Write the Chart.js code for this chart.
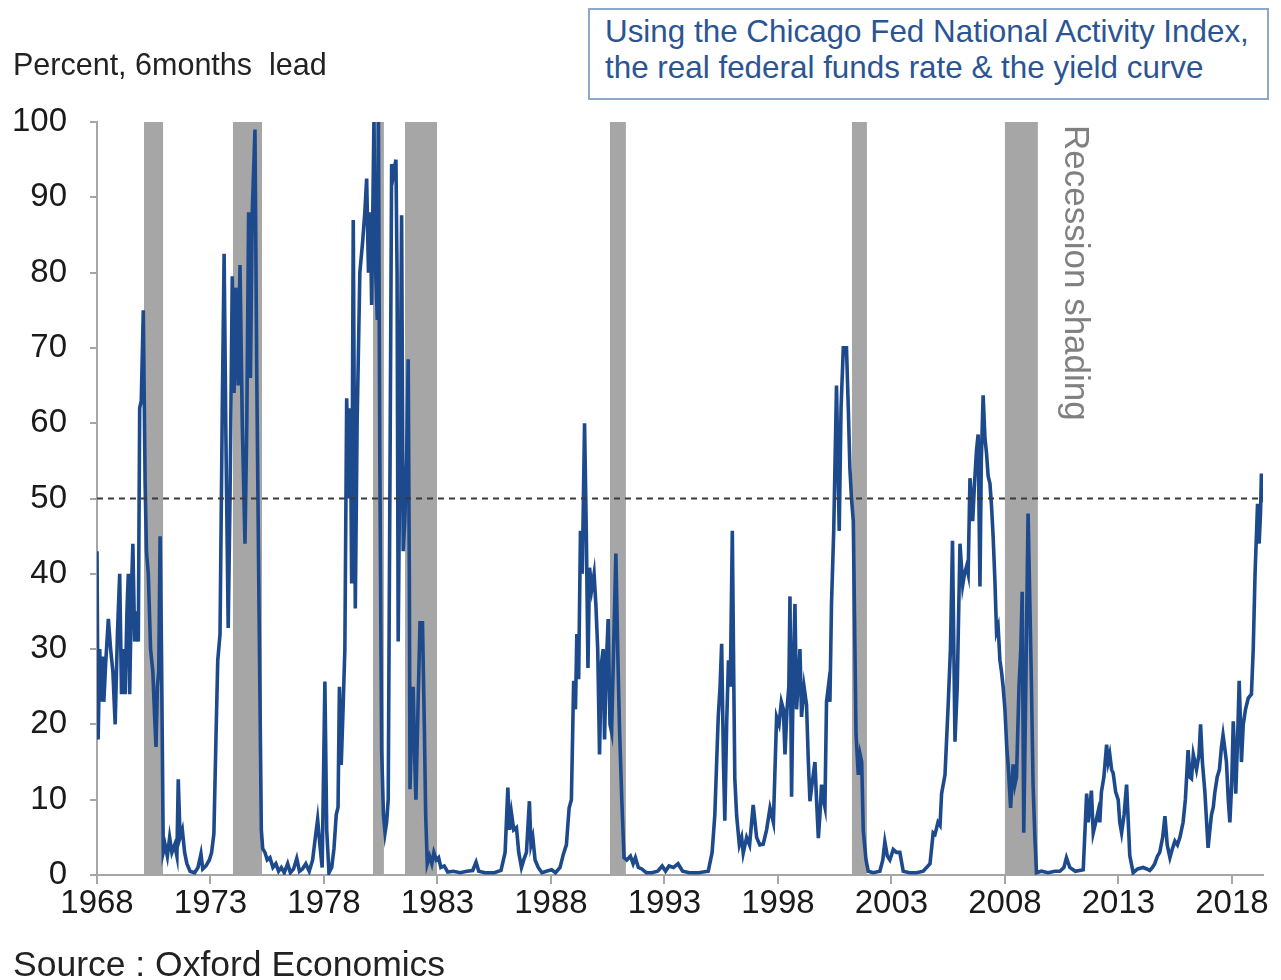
<!DOCTYPE html>
<html>
<head>
<meta charset="utf-8">
<title>Recession probability</title>
<script src="https://cdn.jsdelivr.net/npm/chart.js@4.4.1/dist/chart.umd.min.js"></script>
<style>
  html, body { margin: 0; padding: 0; background: #ffffff; }
  #wrap { position: relative; width: 1281px; height: 980px; overflow: hidden;
          font-family: "Liberation Sans", Arial, sans-serif; }
  #chart { position: absolute; left: 0; top: 0; }
  .note { position: absolute; white-space: pre; line-height: 1; }
  #unit { left: 13px; top: 49px; font-size: 30.5px; color: #222222; }
  #box { position: absolute; left: 588px; top: 8px; width: 681px; height: 92px;
         border: 2px solid #8ea9c8; box-sizing: border-box; background: #ffffff; }
  #box .note { left: 15px; font-size: 31.4px; color: #2b5592; }
  #box .l1 { top: 6px; }
  #box .l2 { top: 42px; }
  #shade { left: 1095px; top: 125px; font-size: 35px; color: #808080;
           transform: rotate(90deg); transform-origin: 0 0; }
  #source { left: 13px; top: 947px; font-size: 35.5px; color: #222222; }
</style>
</head>
<body>
<div id="wrap">
  <canvas id="chart" width="1281" height="980"></canvas>
  <div class="note" id="unit">Percent, 6months  lead</div>
  <div id="box">
    <div class="note l1">Using the Chicago Fed National Activity Index,</div>
    <div class="note l2">the real federal funds rate &amp; the yield curve</div>
  </div>
  <div class="note" id="shade">Recession shading</div>
  <div class="note" id="source">Source : Oxford Economics</div>
</div>
<script>
// Recession probability, percent, six months ahead (decimal year, value)
const dates = [
  1968.00,1968.05,1968.12,1968.18,1968.24,1968.30,1968.38,1968.50,1968.60,1968.70,
  1968.80,1968.90,1969.00,1969.08,1969.16,1969.24,1969.32,1969.38,1969.44,1969.52,
  1969.58,1969.66,1969.74,1969.82,1969.88,1969.95,1970.04,1970.12,1970.18,1970.26,
  1970.36,1970.46,1970.54,1970.60,1970.66,1970.72,1970.78,1970.84,1970.92,1971.00,
  1971.10,1971.20,1971.30,1971.42,1971.52,1971.58,1971.66,1971.76,1971.86,1971.96,
  1972.10,1972.30,1972.45,1972.58,1972.66,1972.80,1972.95,1973.05,1973.15,1973.24,
  1973.32,1973.42,1973.52,1973.60,1973.68,1973.78,1973.86,1973.96,1974.04,1974.12,
  1974.22,1974.30,1974.40,1974.52,1974.60,1974.68,1974.76,1974.84,1974.96,1975.04,
  1975.14,1975.24,1975.30,1975.40,1975.50,1975.62,1975.75,1975.88,1976.00,1976.12,
  1976.25,1976.40,1976.52,1976.66,1976.80,1976.92,1977.05,1977.20,1977.35,1977.50,
  1977.62,1977.72,1977.82,1977.92,1978.04,1978.12,1978.22,1978.34,1978.44,1978.54,
  1978.62,1978.68,1978.76,1978.84,1978.92,1979.00,1979.08,1979.16,1979.22,1979.29,
  1979.38,1979.46,1979.58,1979.70,1979.80,1979.88,1979.96,1980.04,1980.10,1980.20,
  1980.28,1980.35,1980.40,1980.46,1980.54,1980.62,1980.69,1980.76,1980.83,1980.92,
  1980.98,1981.06,1981.17,1981.22,1981.27,1981.34,1981.42,1981.49,1981.56,1981.64,
  1981.71,1981.76,1981.79,1981.86,1981.93,1982.00,1982.05,1982.14,1982.23,1982.34,
  1982.42,1982.48,1982.55,1982.65,1982.75,1982.84,1982.95,1983.05,1983.15,1983.30,
  1983.45,1983.70,1984.00,1984.30,1984.55,1984.70,1984.82,1985.10,1985.50,1985.80,
  1985.98,1986.10,1986.18,1986.26,1986.36,1986.48,1986.58,1986.70,1986.80,1986.92,
  1987.05,1987.12,1987.20,1987.30,1987.44,1987.60,1987.80,1988.03,1988.20,1988.40,
  1988.55,1988.68,1988.80,1988.90,1989.00,1989.08,1989.14,1989.22,1989.30,1989.38,
  1989.48,1989.56,1989.63,1989.70,1989.80,1989.90,1989.98,1990.06,1990.14,1990.22,
  1990.30,1990.36,1990.44,1990.52,1990.60,1990.67,1990.76,1990.86,1990.94,1991.02,
  1991.12,1991.22,1991.34,1991.50,1991.62,1991.72,1991.85,1992.00,1992.20,1992.45,
  1992.70,1992.90,1993.05,1993.20,1993.40,1993.60,1993.80,1994.10,1994.50,1994.93,
  1995.10,1995.22,1995.30,1995.37,1995.45,1995.52,1995.60,1995.66,1995.74,1995.82,
  1995.90,1995.99,1996.05,1996.10,1996.18,1996.30,1996.40,1996.47,1996.62,1996.75,
  1996.91,1997.06,1997.20,1997.35,1997.50,1997.65,1997.80,1997.94,1998.05,1998.15,
  1998.24,1998.31,1998.40,1998.48,1998.53,1998.60,1998.68,1998.75,1998.82,1998.90,
  1998.97,1999.04,1999.15,1999.26,1999.34,1999.41,1999.50,1999.63,1999.70,1999.78,
  1999.85,1999.92,2000.00,2000.07,2000.14,2000.22,2000.29,2000.36,2000.46,2000.58,
  2000.64,2000.70,2000.78,2000.88,2001.02,2001.10,2001.17,2001.24,2001.32,2001.44,
  2001.54,2001.62,2001.69,2001.76,2001.88,2001.98,2002.20,2002.49,2002.62,2002.71,
  2002.82,2002.93,2003.08,2003.22,2003.37,2003.52,2003.80,2004.11,2004.40,2004.70,
  2004.84,2004.92,2005.05,2005.14,2005.21,2005.36,2005.50,2005.60,2005.69,2005.80,
  2005.90,2006.02,2006.14,2006.22,2006.31,2006.38,2006.46,2006.58,2006.66,2006.75,
  2006.82,2006.90,2006.96,2007.04,2007.12,2007.19,2007.26,2007.34,2007.41,2007.48,
  2007.56,2007.63,2007.70,2007.78,2007.85,2007.92,2008.00,2008.08,2008.14,2008.25,
  2008.36,2008.44,2008.51,2008.62,2008.70,2008.76,2008.83,2008.92,2009.02,2009.10,
  2009.17,2009.24,2009.32,2009.39,2009.60,2009.90,2010.20,2010.42,2010.60,2010.71,
  2010.86,2011.10,2011.45,2011.60,2011.67,2011.74,2011.81,2011.89,2012.00,2012.11,
  2012.18,2012.25,2012.36,2012.48,2012.55,2012.62,2012.70,2012.77,2012.88,2012.99,
  2013.06,2013.14,2013.25,2013.36,2013.45,2013.50,2013.65,2013.85,2014.09,2014.25,
  2014.38,2014.50,2014.60,2014.72,2014.82,2014.95,2015.05,2015.15,2015.27,2015.38,
  2015.49,2015.60,2015.71,2015.85,2015.95,2016.07,2016.15,2016.22,2016.30,2016.37,
  2016.44,2016.55,2016.62,2016.70,2016.81,2016.95,2017.03,2017.10,2017.18,2017.25,
  2017.35,2017.45,2017.54,2017.61,2017.68,2017.76,2017.84,2017.91,2017.99,2018.06,
  2018.12,2018.17,2018.25,2018.32,2018.38,2018.42,2018.50,2018.60,2018.72,2018.86,
  2018.94,2019.02,2019.13,2019.20,2019.26,2019.30,2019.35
];
const probability = [
  43,18,30,23,29,23,28,34,30,27,
  20,32,40,24,30,24,35,40,24,38,
  44,31,35,31,62,63,75,52,43,40,
  30,27,21,17,25,27,45,30,3,4,
  2.5,5,3,4,2.5,12.7,5,6,3,1.5,
  0.5,0.3,1,2.8,0.8,1.2,2,3,5.5,18,
  28.5,32,62,82.5,58,32.8,50,79.5,64,78,
  65,81,60,44,60,88,66,88,99,66,
  35,6,3.5,3,2,2.3,1,1.5,0.5,1,
  0.3,1.5,0.3,0.8,2.2,0.5,0.8,1.5,0.5,2,
  5,7.4,4,1,25.7,6,0.3,1,3.5,8,
  9,25,14.6,22,30,63.3,50,62,38.7,87,
  35.4,60,80,84,88,92.5,80,88,75.7,100,
  80,73.7,100,55,16.6,8,5.6,7,10,60,
  94.4,93,95,80,31,55,87.6,43,47,55,
  68.5,40,11.4,20,25,15,10,22,33.5,33.5,
  20,8,1.5,2.5,1.5,3,2,2.3,1,1.2,
  0.4,0.5,0.3,0.5,0.6,1.7,0.5,0.3,0.3,0.6,
  3,11.6,6,8.2,6,6.3,3,1,2,3,
  9.8,4,5,2,1,0.3,0.5,0.7,0.3,1,
  2.8,4,8.9,10,25.8,22,32,26,45.7,40,
  60,45,27.5,40.8,38,40,35.8,30,16,28,
  30,18,28,34,20,19,30,42.7,30,19.5,
  10,2.3,2,2.5,1.5,2.3,1,0.8,0.3,0.3,
  0.5,1.2,0.5,1.2,1,1.5,0.5,0.3,0.3,0.5,
  3,8,15,21,25,30.7,15,7.2,20,28.5,
  25,45.7,27,12.8,7.9,4,5,2.9,5,4,
  9.3,5,4,4.1,6,8.9,7,21,20,23,
  22,16,22,25,37,10.4,28,36,22,26,
  30,21,25,22.6,15,9.8,12,15,10,4.9,
  8,12,10,9,23,25,23,36,46,65,
  55,45.7,62,70,70,62,54,50,47,18.7,
  13.3,16,15,5.9,2,0.5,0.3,0.5,2,4.4,
  2.5,2,3.4,3,3,0.5,0.3,0.3,0.5,1.5,
  5.6,5.4,7,6.6,10.8,13.3,22.6,30,44.4,17.7,
  25,44,38.5,40,41,40,52.7,47,52,56.5,
  58.5,38.3,55,63.7,58,56,53,52,49,45,
  39,32.3,33,28.5,27,25,22,17,14.7,8.9,
  14.7,12,13,25,30,37.6,5.6,25,48,36,
  25,12,5,0.3,0.5,0.3,0.5,0.5,1,2.3,
  1,0.5,0.7,10.8,7,9,11.2,5.6,7,8.5,
  7,11,13,17.3,15,16,14,13.5,11,10,
  7,5.6,8,12,6,2.6,0.3,0.8,1,0.8,
  0.6,1,1.5,2.5,3,5,7.8,4,2.3,3.5,
  4.5,4,5,7,10,16.6,13,12.8,16,15,
  14,16,20,15,11,3.6,6,8,9,11,
  13,14,17,18.6,17,15,10,7,12,20.4,
  16,10.8,18,25.8,20,15,20,22,23.5,24,
  30,40,49.3,44,48,53.3,49.5
];

// NBER recession periods (decimal years)
const recessionStart = [1970.07, 1973.99, 1980.16, 1981.57, 1990.60, 2001.26, 2008.00];
const recessionEnd   = [1970.91, 1975.27, 1980.64, 1982.98, 1991.30, 2001.92, 2009.45];

// Axis ticks and the 50% signal threshold
const yearTicks = [1968, 1973, 1978, 1983, 1988, 1993, 1998, 2003, 2008, 2013, 2018];
const percentTicks = [0, 10, 20, 30, 40, 50, 60, 70, 80, 90, 100];
const threshold = 50;
const xStart = 1968;
const xEnd = 2019.37;

const FONT = "'Liberation Sans', Arial, sans-serif";
const axisGrey = '#a6a6a6';

// Grey recession bands drawn behind the series
const recessionBands = {
  id: 'recessionBands',
  beforeDatasetsDraw(chart) {
    const { ctx, scales } = chart;
    ctx.save();
    ctx.fillStyle = '#a6a6a6';
    for (let i = 0; i < recessionStart.length; i++) {
      const x0 = scales.x.getPixelForValue(recessionStart[i]);
      const x1 = scales.x.getPixelForValue(recessionEnd[i]);
      const yTop = scales.y.getPixelForValue(100);
      const yBot = scales.y.getPixelForValue(0);
      ctx.fillRect(x0, yTop, x1 - x0, yBot - yTop);
    }
    ctx.restore();
  }
};

new Chart(document.getElementById('chart'), {
  type: 'line',
  data: {
    datasets: [
      {
        label: '50% threshold',
        data: [{ x: xStart, y: threshold }, { x: xEnd, y: threshold }],
        borderColor: '#3a3a3a',
        borderWidth: 2,
        borderDash: [6, 5],
        pointRadius: 0,
        order: 0
      },
      {
        label: 'Recession probability',
        data: dates.map((d, i) => ({ x: d, y: probability[i] })),
        borderColor: '#1d4a8c',
        borderWidth: 3.6,
        pointRadius: 0,
        tension: 0,
        borderJoinStyle: 'miter',
        order: 1
      }
    ]
  },
  options: {
    responsive: false,
    animation: false,
    devicePixelRatio: 1,
    layout: { padding: { top: 122, right: 18, bottom: 45, left: 0 } },
    plugins: { legend: { display: false }, tooltip: { enabled: false } },
    scales: {
      x: {
        type: 'linear',
        min: xStart,
        max: xEnd,
        afterBuildTicks: axis => { axis.ticks = yearTicks.map(v => ({ value: v })); },
        afterFit: axis => { axis.height = 60; },
        grid: { drawOnChartArea: false, drawTicks: true, tickLength: 9, tickColor: axisGrey, lineWidth: 2 },
        border: { display: true, color: axisGrey, width: 2 },
        ticks: {
          autoSkip: false, maxRotation: 0, padding: 0, color: '#1a1a1a',
          font: { family: FONT, size: 33 },
          callback: v => String(v)
        }
      },
      y: {
        min: 0,
        max: 100,
        afterBuildTicks: axis => { axis.ticks = percentTicks.map(v => ({ value: v })); },
        afterFit: axis => { axis.width = 97; },
        grid: { drawOnChartArea: false, drawTicks: true, tickLength: 7, tickColor: axisGrey, lineWidth: 2 },
        border: { display: true, color: axisGrey, width: 2 },
        ticks: {
          padding: 23, color: '#1a1a1a',
          font: { family: FONT, size: 33 },
          callback: v => String(v)
        }
      }
    }
  },
  plugins: [recessionBands]
});
</script>
</body>
</html>
